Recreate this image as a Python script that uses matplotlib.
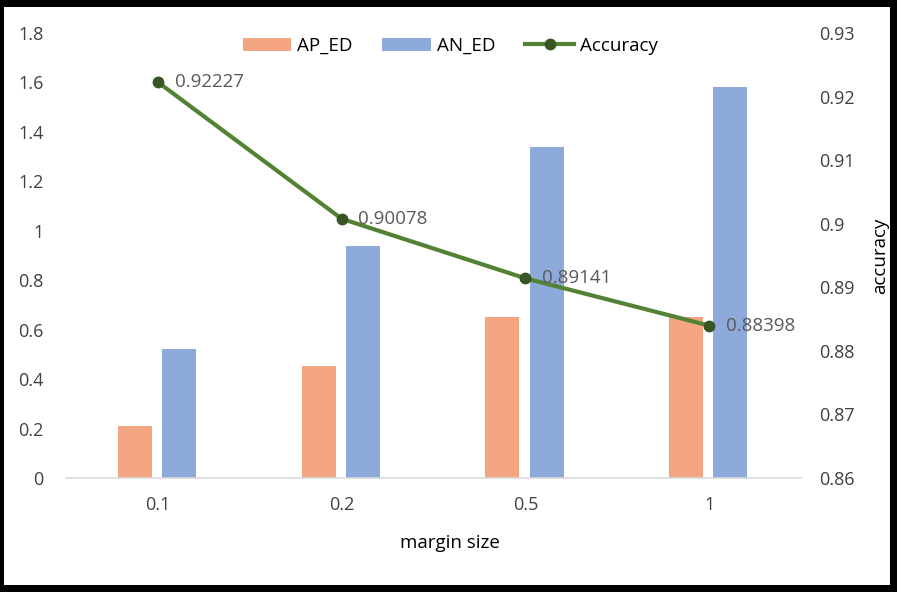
import matplotlib
matplotlib.use('Agg')
import matplotlib.pyplot as plt
from matplotlib.patches import Rectangle
import numpy as np

margins = ['0.1', '0.2', '0.5', '1']
ap_ed = [0.21, 0.455, 0.65, 0.652]
an_ed = [0.52, 0.94, 1.34, 1.58]
accuracy = [0.92227, 0.90078, 0.89141, 0.88398]

plt.rcParams['font.family'] = ['Open Sans', 'DejaVu Sans']
txt = '#404040'

fig = plt.figure(figsize=(8.97, 5.92), dpi=100, facecolor='black')
# white chart area inside the dark frame
fig.patches.append(Rectangle((4 / 897, 7 / 592), 886 / 897, 578 / 592,
                             transform=fig.transFigure, facecolor='white',
                             edgecolor='none', zorder=-5))

ax = fig.add_axes([66 / 897, (592 - 478) / 592, 735 / 897, 445 / 592])
ax.set_facecolor('none')
x = np.arange(len(margins))
w = 0.185
b1 = ax.bar(x - 0.125, ap_ed, w, color='#f4a582', label='AP_ED', zorder=2)
b2 = ax.bar(x + 0.115, an_ed, w, color='#8eaadb', label='AN_ED', zorder=2)
ax.set_xlim(-0.5, 3.5)
ax.set_ylim(0, 1.8)
ax.set_yticks(np.arange(0, 1.81, 0.2))
ax.set_yticklabels(['0', '0.2', '0.4', '0.6', '0.8', '1', '1.2', '1.4', '1.6', '1.8'])
ax.set_xticks(x)
ax.set_xticklabels(margins)
for s in ['top', 'right', 'left']:
    ax.spines[s].set_visible(False)
ax.spines['bottom'].set_color('#d9d9d9')
ax.spines['bottom'].set_linewidth(1.2)
ax.tick_params(length=0, labelsize=13, colors=txt)
ax.tick_params(axis='y', pad=16)
ax.tick_params(axis='x', pad=13)
ax.set_xlabel('margin size', fontsize=13.5, color='black', labelpad=14)
ax.xaxis.set_label_coords(0.522, -0.125)

ax2 = ax.twinx()
ln, = ax2.plot(x, accuracy, color='#548235', lw=3, marker='o', ms=7.5,
               mfc='#375623', mec='#375623', label='Accuracy', zorder=3)
ax2.set_ylim(0.86, 0.93)
ax2.set_yticks(np.arange(0.86, 0.931, 0.01))
ax2.set_yticklabels(['0.86', '0.87', '0.88', '0.89', '0.9', '0.91', '0.92', '0.93'])
for s in ax2.spines.values():
    s.set_visible(False)
ax2.tick_params(length=0, labelsize=13, colors=txt, pad=13)
ax2.set_ylabel('accuracy', fontsize=13.5, color='black', labelpad=12)
for xi, a in zip(x, accuracy):
    ax2.annotate(f'{a:.5f}', (xi, a), xytext=(12, 0), textcoords='offset points',
                 va='center', ha='left', fontsize=13.5, color='#595959')

fig.legend(handles=[b1, b2, ln], loc='center', bbox_to_anchor=(450 / 897, 1 - 46 / 592),
           ncol=3, frameon=False, fontsize=13.5, handlelength=2.6, columnspacing=1.6,
           handletextpad=0.3, labelcolor='black')

fig.savefig('out.png', dpi=100, facecolor='black')
